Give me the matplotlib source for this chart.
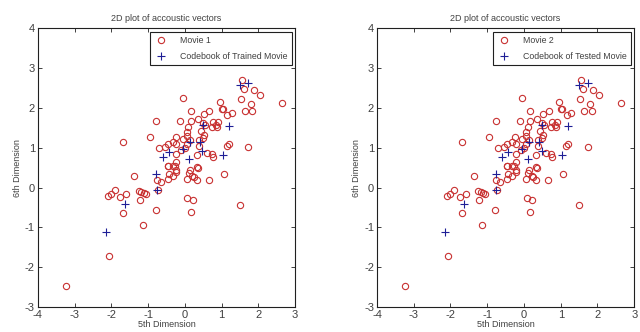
import numpy as np
import matplotlib
matplotlib.use('Agg')
import matplotlib.pyplot as plt

plt.rcParams['font.family'] = ['Liberation Sans Narrow', 'Liberation Sans', 'DejaVu Sans']
plt.rcParams['axes.unicode_minus'] = False

# acoustic vectors (5th dim, 6th dim)
vec_x = [-1.68, -0.95, -0.77, -0.05, -0.12, 0.16, 0.16, 0.35, 0.52, 0.67,
         0.96, 1.00, 1.03, 1.16, 1.29, 1.55, 1.61, 1.88, 2.05, 1.52,
         1.80, 1.64, 1.84, 2.65, 1.73, 0.91, 0.77, 0.85, 0.73, 0.87,
         0.49, 0.55, 0.44, 0.52, 0.50, 0.38, 0.10, 0.05, 0.05, 0.15,
         0.06, -0.06, -0.25, -0.32, -0.45, -0.55, -0.70, -0.23, -0.09, 0.00,
         -0.23, 0.38, 0.32, 0.61, 0.73, 0.77, 1.14, 1.20, -0.45, -0.32,
         0.34, 0.14, -0.23, -3.23, -2.06, -2.09, -2.00, -1.90, -1.75, -1.59,
         -1.68, -1.37, -1.25, -1.23, -1.18, -1.12, -1.05, -1.14, -0.79, -0.75,
         -0.66, -0.74, -0.45, -0.43, -0.45, -0.27, -0.32, -0.23, -0.23, 0.06,
         0.12, 0.21, 0.25, 0.34, 0.36, 0.65, 1.06, 0.07, 0.23, 0.17, 1.50]
vec_y = [1.15, 1.27, 1.68, 2.25, 1.68, 1.93, 1.68, 1.72, 1.84, 1.91,
         2.15, 1.98, 1.98, 1.81, 1.86, 2.70, 2.48, 2.44, 2.33, 2.23,
         2.09, 1.92, 1.91, 2.12, 1.03, 1.65, 1.65, 1.58, 1.51, 1.53,
         1.62, 1.56, 1.43, 1.32, 1.25, 1.20, 1.53, 1.40, 1.30, 1.20,
         1.10, 1.21, 1.28, 1.15, 1.10, 1.03, 0.99, 0.84, 0.94, 0.99,
         1.09, 1.05, 0.82, 0.86, 0.84, 0.76, 1.05, 1.10, 0.55, 0.55,
         0.51, 0.44, 0.44, -2.48, -1.71, -0.21, -0.15, -0.05, -0.23, -0.17,
         -0.63, 0.28, -0.09, -0.32, -0.12, -0.14, -0.15, -0.93, -0.57, 0.19,
         0.13, -0.05, 0.22, 0.34, 0.53, 0.53, 0.29, 0.39, 0.64, 0.22,
         0.37, 0.30, 0.26, 0.20, 0.48, 0.20, 0.34, -0.25, -0.30, -0.62, -0.43]

# codebook centroids
code_x = [-0.59, -0.43, -0.05, 0.12, 0.14, 0.48, 0.50, 0.42, 1.03, 1.21,
          1.50, 1.73, -2.14, -1.64, -0.77, -0.75]
code_y = [0.76, 0.90, 0.97, 0.71, 1.14, 0.92, 1.58, 1.15, 0.82, 1.55,
          2.58, 2.62, -1.12, -0.41, 0.33, -0.06]

panels = [('Movie 1', 'Codebook of Trained Movie'),
          ('Movie 2', 'Codebook of Tested Movie')]

fig = plt.figure(figsize=(6.4, 3.32), dpi=100)
lefts = [0.059, 0.589]
txt_col = '#404040'

for left, (lab1, lab2) in zip(lefts, panels):
    ax = fig.add_axes([left, 0.075, 0.402, 0.840])
    ax.plot(vec_x, vec_y, 'o', mfc='none', mec='#c83232', ms=4.5, mew=0.8, label=lab1)
    ax.plot(code_x, code_y, '+', color='#1e1e96', ms=5.5, mew=0.8, label=lab2)
    ax.set_xlim(-4, 3)
    ax.set_ylim(-3, 4)
    ax.set_xticks(range(-4, 4))
    ax.set_yticks(range(-3, 5))
    ax.tick_params(direction='in', top=True, right=True, length=3, width=0.6,
                   labelsize=8, colors='#202020', labelcolor=txt_col, pad=2)
    for sp in ax.spines.values():
        sp.set_linewidth(0.8)
        sp.set_color('#202020')
    ax.set_title('2D plot of accoustic vectors', fontsize=6.5, color=txt_col, pad=5)
    ax.set_xlabel('5th Dimension', fontsize=6.5, color=txt_col, labelpad=0)
    ax.set_ylabel('6th Dimension', fontsize=6.5, color=txt_col, labelpad=2)
    leg = ax.legend(loc='upper right', fontsize=6.3, fancybox=False, framealpha=1,
                    edgecolor='#202020', borderaxespad=0.4, handletextpad=1.3,
                    handlelength=1.6, labelspacing=0.8, borderpad=0.5)
    leg.get_frame().set_linewidth(0.8)
    for t in leg.get_texts():
        t.set_color(txt_col)

fig.savefig('out.png', dpi=100)
